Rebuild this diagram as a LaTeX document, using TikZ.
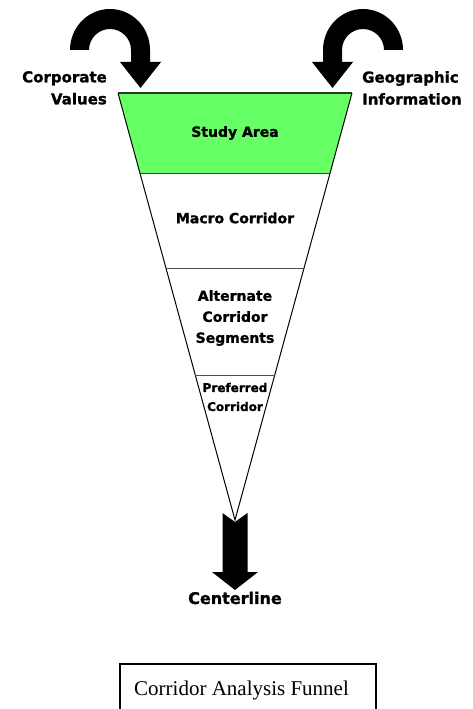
\documentclass[tikz,border=0pt]{standalone}
\usepackage{fontspec}
\setmainfont{Liberation Serif}
\newfontfamily\labelfont[BoldFeatures={FakeBold=1.3}]{DejaVu Sans}
\usetikzlibrary{calc}

\definecolor{areagreen}{RGB}{102,255,102}
\tikzset{
  stagelbl/.style={font=\labelfont\bfseries\fontsize{14}{21}\selectfont, align=center, inner sep=0pt},
  inputlbl/.style={font=\labelfont\bfseries\fontsize{15}{22}\selectfont, inner sep=0pt},
  blockarrow/.style={fill=black},
}

\begin{document}
\begin{tikzpicture}[x=1pt, y=-1pt]
        \useasboundingbox (0,0) rectangle (472,709);
        % funnel corners and stage cuts
        \coordinate (tl) at (118,93);
        \coordinate (tr) at (352,93);
        \coordinate (apex) at (235,520);
        \coordinate (al) at ($(tl)!0.1877!(apex)$);
        \coordinate (ar) at ($(tr)!0.1877!(apex)$);
        \coordinate (bl) at ($(tl)!0.4108!(apex)$);
        \coordinate (br) at ($(tr)!0.4108!(apex)$);
        \coordinate (cl) at ($(tl)!0.6620!(apex)$);
        \coordinate (cr) at ($(tr)!0.6620!(apex)$);
        \fill[areagreen] (tl) -- (tr) -- (ar) -- (al) -- cycle;
        \draw[line width=1pt] (tl) -- (apex) -- (tr);
        \draw[line width=1.6pt, black!80] (tl) -- (tr);
        \draw[line width=1.2pt, black!75] (al) -- (ar);
        \draw[line width=1.2pt, black!70] (bl) -- (br);
        \draw[line width=1.2pt, black!70] (cl) -- (cr);

        \node[stagelbl] (study) at (235,133) {Study Area};
        \node[stagelbl] (macro) at (235,218) {Macro Corridor};
        \node[stagelbl] (alternate) at (235,318) {Alternate\\Corridor\\Segments};
        \node[stagelbl, font=\labelfont\bfseries\fontsize{12}{19}\selectfont]
          (preferred) at (235,397) {Preferred\\Corridor};

        % input arrows
        \fill[blockarrow] (70,50) arc (180:360:40 and 41) -- (150,62) -- (161,62)
          -- (140.5,88) -- (120,62) -- (131,62) -- (131,50)
          arc (360:180:21) -- cycle;
        \fill[blockarrow] (403,50) arc (0:-180:40 and 41) -- (323,62) -- (312,62)
          -- (332.5,88) -- (353,62) -- (342,62) -- (342,50)
          arc (-180:0:21) -- cycle;
        \node[inputlbl, align=right, anchor=north east] (corpval)
          at (107,71) {Corporate\\Values};
        \node[inputlbl, align=left, anchor=north west] (geoinfo)
          at (362,71) {Geographic\\Information};

        % output arrow
        \fill[blockarrow] (222.5,513) -- (235,522) -- (247.5,513) -- (247.5,572)
          -- (258,572) -- (235,590) -- (212,572) -- (222.5,572) -- cycle;
        \node[inputlbl, font=\labelfont\bfseries\fontsize{16}{19}\selectfont]
          (centerline) at (235,598) {Centerline};

        % caption box
        \draw[line width=1.3pt] (120,715) -- (120,664) -- (376,664) -- (376,715);
        \node[anchor=base west, inner sep=0pt, font=\fontsize{21}{24}\selectfont]
          (caption) at (134,695) {Corridor Analysis Funnel};
      \end{tikzpicture}
\end{document}
